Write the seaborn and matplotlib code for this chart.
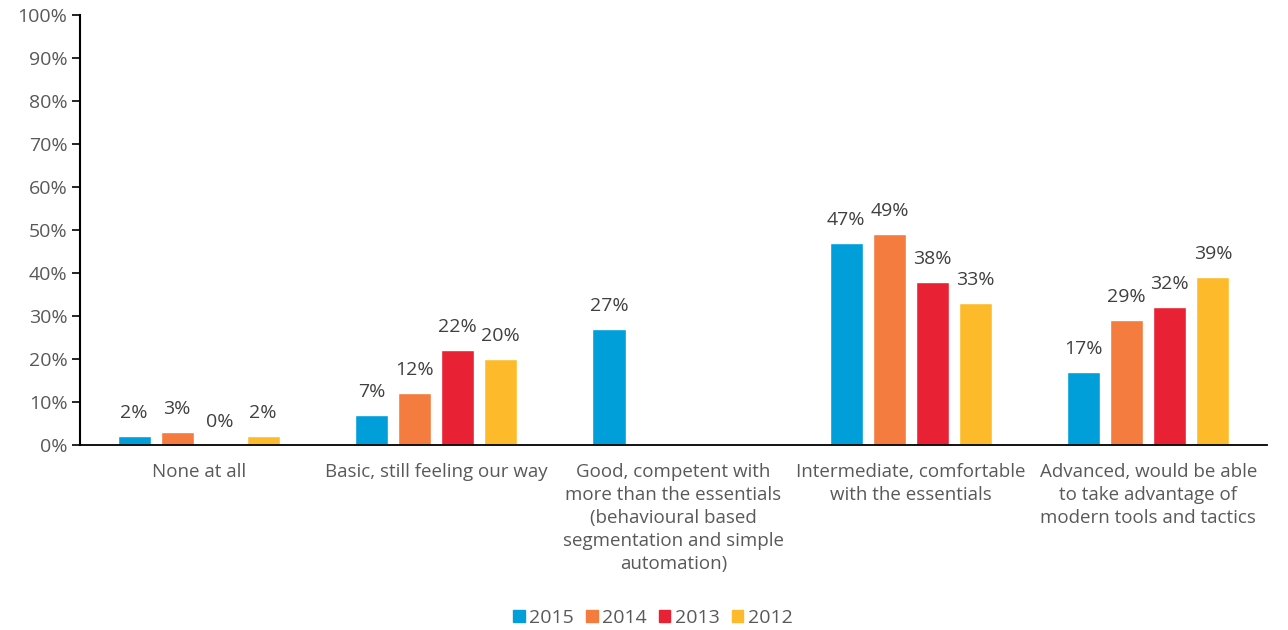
import numpy as np
import pandas as pd
import matplotlib
matplotlib.use("Agg")
import matplotlib.pyplot as plt
import seaborn as sns
from matplotlib.ticker import FuncFormatter, MultipleLocator

categories = [
    "None at all",
    "Basic, still feeling our way",
    "Good, competent with\nmore than the essentials\n(behavioural based\nsegmentation and simple\nautomation)",
    "Intermediate, comfortable\nwith the essentials",
    "Advanced, would be able\nto take advantage of\nmodern tools and tactics",
]
years = ["2015", "2014", "2013", "2012"]
v2015 = [2, 7, 27, 47, 17]
v2014 = [3, 12, np.nan, 49, 29]
v2013 = [0, 22, np.nan, 38, 32]
v2012 = [2, 20, np.nan, 33, 39]
colors = ["#009FDA", "#F37C3E", "#E92134", "#FDBB2C"]

series = {"2015": v2015, "2014": v2014, "2013": v2013, "2012": v2012}
df = pd.DataFrame(
    [(c, y, series[y][i]) for y in years for i, c in enumerate(categories)],
    columns=["category", "year", "value"],
)

sns.set_theme(style="white")
plt.rcParams["font.family"] = ["Open Sans", "DejaVu Sans"]

fig = plt.figure(figsize=(12.88, 6.30), dpi=100)
ax = fig.add_axes([0.0621, 0.2937, 0.9216, 0.6826])

sns.barplot(
    data=df.dropna(), x="category", y="value", hue="year",
    order=categories, hue_order=years, palette=colors,
    width=0.725, gap=0.23, saturation=1, dodge=True, ax=ax, errorbar=None,
)

# value labels above each bar, computed from the same data
n = len(years)
width = 0.725
slot = width / n
for j, y in enumerate(years):
    for i, v in enumerate(series[y]):
        if np.isnan(v):
            continue
        xpos = i - width / 2 + slot * (j + 0.5)
        ax.annotate(f"{v:.0f}%", (xpos, v), xytext=(0, 10), textcoords="offset points",
                    ha="center", va="bottom", fontsize=14, color="#404040")

ax.set_ylim(0, 100)
ax.set_xlim(-0.5, len(categories) - 0.5)
ax.yaxis.set_major_locator(MultipleLocator(10))
ax.yaxis.set_major_formatter(FuncFormatter(lambda v, p: f"{v:.0f}%"))
ax.set_xlabel("")
ax.set_ylabel("")
ax.tick_params(axis="y", which="major", left=True, length=6, width=1.2, color="black",
               labelsize=14, labelcolor="#595959", pad=3)
ax.tick_params(axis="x", bottom=False, labelsize=13.5, labelcolor="#595959", pad=7)
for lbl in ax.get_xticklabels():
    lbl.set_linespacing(1.35)

for s in ["top", "right"]:
    ax.spines[s].set_visible(False)
ax.spines["left"].set_color("black")
ax.spines["left"].set_linewidth(1.5)
ax.spines["bottom"].set_color("black")
ax.spines["bottom"].set_linewidth(1.3)

ax.legend_.remove()
handles = [plt.Rectangle((0, 0), 1, 1, color=c) for c in colors]
fig.legend(handles, years, loc="center", bbox_to_anchor=(0.507, 0.019), ncol=4,
           frameon=False, fontsize=14, labelcolor="#595959",
           handlelength=0.6, handleheight=0.6, handletextpad=0.25, columnspacing=0.6)

fig.savefig("out.png", dpi=100)
